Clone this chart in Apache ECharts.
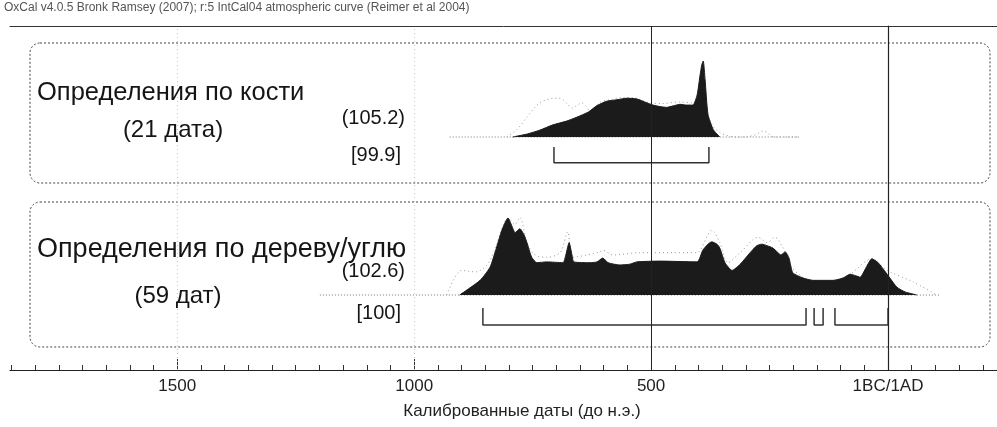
<!DOCTYPE html>
<html><head><meta charset="utf-8">
<script src="https://cdn.jsdelivr.net/npm/echarts@6/dist/echarts.min.js"></script>
<style>html,body{margin:0;padding:0;background:#fff}#c{width:997px;height:427px}</style>
</head><body><div id="c"></div>
<script>
// ---- data (calendar years BC; negative = AD) ----
const xLabelValues = [1500, 1000, 500, 0];
const majorTickValues = [1500, 1000, 500, 0];
const minorTickValues = [-200,-150,-100,-50,0,50,100,150,200,250,300,350,400,450,500,550,600,650,700,750,800,850,900,950,1000,1050,1100,1150,1200,1250,1300,1350,1400,1450,1500,1550,1600,1650,1700,1750,1800,1850];
const solidGridValues = [500, 0];
const faintGridValues = [1500, 1000];

// bone: modelled (filled) distribution
const boneYears = [792, 761, 735, 707, 678, 657, 632, 615, 594, 572, 551, 530, 509, 496, 481, 467, 453, 439, 425, 412, 403, 397, 393, 390, 386, 380, 369, 355];
const boneProb  = [0,   4,   9,   16,  21,  26,  33,  41,  47,  49,  51,  50,  45,  42,  40,  39,  41,  43,  42,  42,  55,  80,  95,  100, 75,  30,  10,  0];
// bone: unmodelled (dotted outline)
const boneOutlineYears = [804, 783, 762, 748, 735, 720, 707, 695, 686, 676, 667, 656, 646, 637, 629, 607, 587, 559, 530, 509, 480, 440, 412, 400, 395, 380, 369, 355, 340, 320, 300, 280, 263, 250, 241, 220, 186];
const boneOutlineProb  = [0,   10,  26,  37,  45,  49,  51,  51,  49,  43,  38,  42,  45,  40,  35,  46,  49,  52,  51,  46,  44,  46,  45,  50,  55,  28,  14,  6,   2,   0,   0,   3,   8,   3,   0,   0,   0];
const boneBaseline = [925, 186];
const boneRanges = [[705, 378]];
const boneLabel = 'Определения по кости';
const boneCount = '(21 дата)';
const boneAgreement = '(105.2)';
const boneConvergence = '[99.9]';

// wood/charcoal: modelled (filled)
const woodYears = [904, 861, 840, 828, 815, 802, 794, 787, 777, 768, 762, 752, 741, 720, 686, 680, 673, 667, 663, 629, 614, 602, 591, 566, 545, 530, 481, 403, 391, 380, 372, 361, 355, 344, 329, 312, 291, 277, 266, 255, 243, 234, 226, 217, 209, 201, 179, 158, 116, 95, 80, 68, 59, 46, 34, 21, 8, -4, -19, -36, -61];
const woodProb  = [0,   19,  36,  58,  84,  100, 90,  81,  86,  78,  68,  49,  42,  43,  42,  52,  68,  52,  43,  42,  43,  48,  42,  39,  40,  43,  44,  43,  58,  66,  69,  66,  61,  42,  32,  40,  55,  64,  66,  64,  61,  56,  52,  56,  48,  29,  22,  19,  19,  22,  27,  25,  23,  36,  47,  42,  32,  22,  10,  4,   0];
// wood/charcoal: unmodelled (dotted outline)
const woodOutlineYears = [931, 900, 870, 845, 828, 815, 802, 787, 777, 762, 745, 720, 692, 676, 665, 635, 608, 602, 580, 524, 454, 418, 403, 372, 355, 338, 312, 274, 255, 239, 222, 203, 179, 158, 116, 80, 34, 8, -4, -53, -103];
const woodOutlineProb  = [0,   32,  30,  40,  62,  86,  100, 92,  101, 68,  52,  49,  55,  82,  49,  52,  56,  58,  52,  55,  55,  55,  55,  84,  68,  42,  55,  75,  68,  75,  62,  36,  23,  19,  19,  27,  47,  35,  30,  17,  0];
const woodBaseline = [1199, -110];
const woodRanges = [[855, 173], [156, 137], [112, 0]];
const woodLabel = 'Определения по дереву/углю';
const woodCount = '(59 дат)';
const woodAgreement = '(102.6)';
const woodConvergence = '[100]';

const headerText = 'OxCal v4.0.5 Bronk Ramsey (2007); r:5 IntCal04 atmospheric curve (Reimer et al 2004)';
const xAxisTitle = 'Калиброванные даты (до н.э.)';

// ---- build ----
const FONT = '"Liberation Sans", Arial, sans-serif';
const XMIN = -230, XMAX = 1853;
const G = {left: 10, right: 0};
const zip = (a, b) => a.map((v, i) => [v, b[i]]);
function bracketData(r, top, bottom) {
  return [[r[0], top], [r[0], bottom], [r[1], bottom], [r[1], top]];
}
const hiddenX = (gi) => ({type: 'value', gridIndex: gi, inverse: true, min: XMIN, max: XMAX, show: false});
const hiddenY = (gi) => ({type: 'value', gridIndex: gi, min: -50, max: 100, show: false});

const series = [];
// vertical grid lines on main grid
series.push({
  type: 'line', xAxisIndex: 0, yAxisIndex: 0, data: [], silent: true,
  markLine: {
    symbol: 'none', silent: true, label: {show: false},
    data: solidGridValues.map(v => ({xAxis: v, lineStyle: {color: '#222', width: 1, type: 'solid'}}))
      .concat(faintGridValues.map(v => ({xAxis: v, lineStyle: {color: '#c4c4c4', width: 1, type: [1, 3]}})))
  }
});
// bone
series.push({type: 'line', xAxisIndex: 3, yAxisIndex: 1, data: zip(boneBaseline, [0, 0]), symbol: 'none',
  lineStyle: {color: '#777', width: 1, type: [1, 2]}, z: 1});
series.push({type: 'line', xAxisIndex: 3, yAxisIndex: 1, data: zip(boneOutlineYears, boneOutlineProb), symbol: 'none',
  smooth: 0.3, lineStyle: {color: '#999', width: 1, type: [1, 3]}, z: 2});
series.push({type: 'line', xAxisIndex: 3, yAxisIndex: 1, data: zip(boneYears, boneProb), symbol: 'none',
  smooth: 0.2, lineStyle: {color: '#1b1b1b', width: 1}, areaStyle: {color: '#1b1b1b', opacity: 1}, z: 3});
boneRanges.forEach(r => series.push({type: 'line', xAxisIndex: 3, yAxisIndex: 1, data: bracketData(r, -13, -34),
  symbol: 'none', lineStyle: {color: '#333', width: 1.5}, z: 3}));
// wood
series.push({type: 'line', xAxisIndex: 4, yAxisIndex: 2, data: zip(woodBaseline, [0, 0]), symbol: 'none',
  lineStyle: {color: '#777', width: 1, type: [1, 2]}, z: 1});
series.push({type: 'line', xAxisIndex: 4, yAxisIndex: 2, data: zip(woodOutlineYears, woodOutlineProb), symbol: 'none',
  smooth: 0.3, lineStyle: {color: '#999', width: 1, type: [1, 3]}, z: 2});
series.push({type: 'line', xAxisIndex: 4, yAxisIndex: 2, data: zip(woodYears, woodProb), symbol: 'none',
  smooth: 0.2, lineStyle: {color: '#1b1b1b', width: 1}, areaStyle: {color: '#1b1b1b', opacity: 1}, z: 3});
woodRanges.forEach(r => series.push({type: 'line', xAxisIndex: 4, yAxisIndex: 2, data: bracketData(r, -17, -39),
  symbol: 'none', lineStyle: {color: '#333', width: 1.5}, z: 3}));

const txt = (x, y, text, size, align, color) => ({type: 'text', x: x, y: y, z: 10,
  style: {text: text, fontSize: size, fontFamily: FONT, fill: color || '#151515', align: align || 'left', verticalAlign: 'middle'}});
const box = (x, y, w, h) => ({type: 'rect', z: 0, shape: {x: x, y: y, width: w, height: h, r: 10},
  style: {fill: 'none', stroke: '#444', lineWidth: 1, lineDash: [2, 2]}});

const option = {
  backgroundColor: '#fff',
  animation: false,
  grid: [
    {left: G.left, right: G.right, top: 26, bottom: 57},
    {left: G.left, right: G.right, top: 61, height: 114},
    {left: G.left, right: G.right, top: 218, height: 115.5}
  ],
  xAxis: [
    {type: 'value', gridIndex: 0, inverse: true, min: XMIN, max: XMAX, position: 'bottom',
      axisLine: {show: true, lineStyle: {color: '#222', width: 1.2}},
      axisTick: {show: true, inside: true, length: 5, customValues: minorTickValues, lineStyle: {color: '#333'}},
      axisLabel: {show: true, customValues: xLabelValues, margin: 8, fontSize: 17, fontFamily: FONT, color: '#222',
        formatter: v => (v === 0 ? '1BC/1AD' : String(v))},
      splitLine: {show: false}},
    {type: 'value', gridIndex: 0, inverse: true, min: XMIN, max: XMAX, position: 'bottom',
      axisLine: {show: false},
      axisTick: {show: true, inside: true, length: 11, customValues: majorTickValues, lineStyle: {color: '#333'}},
      axisLabel: {show: false}, splitLine: {show: false}},
    {type: 'value', gridIndex: 0, inverse: true, min: XMIN, max: XMAX, position: 'top',
      axisLine: {show: true, lineStyle: {color: '#333', width: 1}},
      axisTick: {show: false}, axisLabel: {show: false}, splitLine: {show: false}},
    hiddenX(1), hiddenX(2)
  ],
  yAxis: [
    {type: 'value', gridIndex: 0, min: 0, max: 1, position: 'left',
      axisLine: {show: true, lineStyle: {color: '#333', width: 1.2}},
      axisTick: {show: false}, axisLabel: {show: false}, splitLine: {show: false}},
    hiddenY(1), hiddenY(2)
  ],
  series: series,
  graphic: [
    box(30, 43, 960, 140),
    box(30, 202, 960, 145),
    txt(4, 8, headerText, 12, 'left', '#555'),
    txt(37, 93, boneLabel, 25.5),
    txt(173, 130, boneCount, 24, 'center'),
    txt(405, 118, boneAgreement, 20, 'right'),
    txt(401, 155, boneConvergence, 20, 'right'),
    txt(37, 250, woodLabel, 27),
    txt(178, 296, woodCount, 24, 'center'),
    txt(405, 271, woodAgreement, 20, 'right'),
    txt(401, 313, woodConvergence, 20, 'right'),
    txt(522, 411, xAxisTitle, 17, 'center', '#222')
  ]
};
const chart = echarts.init(document.getElementById('c'), null, {renderer: 'canvas'});
chart.setOption(option);
</script>
</body></html>
